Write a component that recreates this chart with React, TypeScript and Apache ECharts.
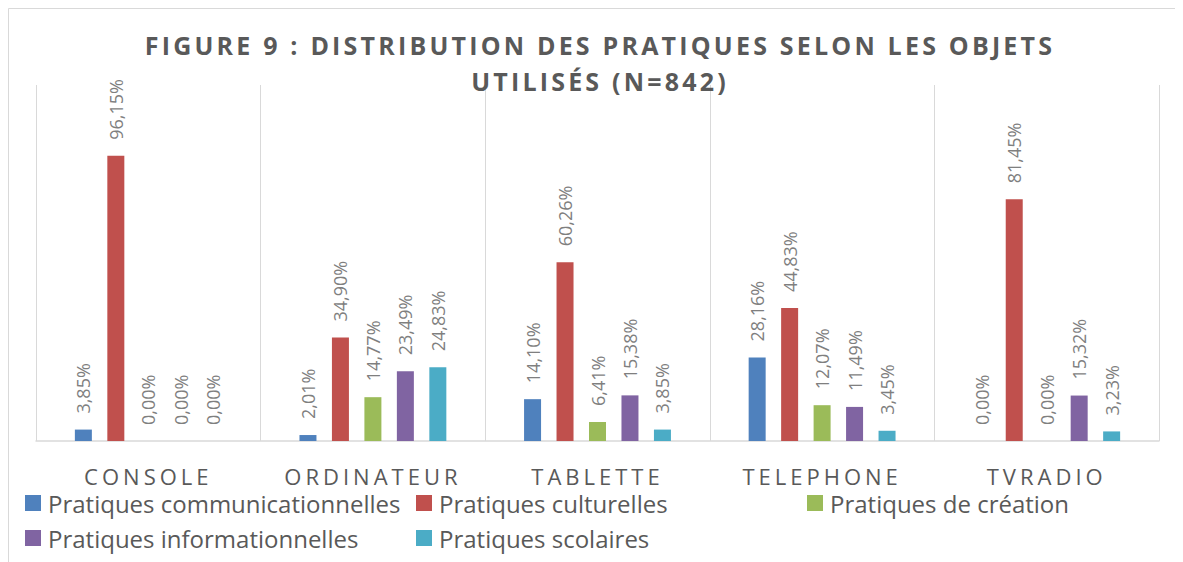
import React, { useEffect, useRef } from "react";
import * as echarts from "echarts";

const categories = ["CONSOLE", "ORDINATEUR", "TABLETTE", "TELEPHONE", "TVRADIO"];
const communicationnelles = [3.85, 2.01, 14.1, 28.16, 0];
const culturelles = [96.15, 34.9, 60.26, 44.83, 81.45];
const creation = [0, 14.77, 6.41, 12.07, 0];
const informationnelles = [0, 23.49, 15.38, 11.49, 15.32];
const scolaires = [0, 24.83, 3.85, 3.45, 3.23];

const seriesNames = [
  "Pratiques communicationnelles",
  "Pratiques culturelles",
  "Pratiques de création",
  "Pratiques informationnelles",
  "Pratiques scolaires",
];
const seriesData = [communicationnelles, culturelles, creation, informationnelles, scolaires];
const colors = ["#4F81BD", "#C0504D", "#9BBB59", "#8064A2", "#4BACC6"];

const titleLine1 = "FIGURE 9 : DISTRIBUTION DES PRATIQUES SELON LES OBJETS";
const titleLine2 = "UTILISÉS (N=842)";

const FONT = "'Open Sans', 'Noto Sans', sans-serif";

export default function App() {
  const ref = useRef<HTMLDivElement>(null);
  useEffect(() => {
    if (!ref.current) return;
    const chart = echarts.init(ref.current, null, { renderer: "svg" });
    const legendPos = [
      { left: 17, top: 483 },
      { left: 408, top: 483 },
      { left: 799, top: 483 },
      { left: 17, top: 518 },
      { left: 408, top: 518 },
    ];
    chart.setOption({
      animation: false,
      color: colors,
      title: {
        text: titleLine1 + "\n" + titleLine2,
        left: 587,
        top: 14,
        textAlign: "center",
        textStyle: {
          fontFamily: FONT,
          fontSize: 25,
          fontWeight: "bold",
          color: "#595959",
          lineHeight: 36,
        },
      },
      legend: legendPos.map((p, i) => ({
        data: [seriesNames[i]],
        left: p.left,
        top: p.top,
        padding: 0,
        icon: "rect",
        itemWidth: 16,
        itemHeight: 16,
        selectedMode: false,
        textStyle: {
          fontFamily: FONT,
          fontSize: 24,
          color: "#595959",
          lineHeight: 20,
          padding: [0, 0, 0, 2],
        },
      })),
      grid: { left: 28, right: 24, top: 77, bottom: 121, containLabel: false },
      xAxis: {
        type: "category",
        data: categories,
        axisLine: { lineStyle: { color: "#d9d9d9", width: 1.5 } },
        axisTick: { show: false },
        splitLine: { show: true, lineStyle: { color: "#d9d9d9", width: 1 } },
        axisLabel: {
          fontFamily: FONT,
          fontSize: 22,
          lineHeight: 18,
          color: "#595959",
          margin: 26,
          interval: 0,
        },
      },
      yAxis: { type: "value", min: 0, max: 120, show: false },
      graphic: [
        { type: "line", shape: { x1: 0.5, y1: 0.5, x2: 1175, y2: 0.5 }, style: { stroke: "#d9d9d9", lineWidth: 1 } },
        { type: "line", shape: { x1: 0.5, y1: 0.5, x2: 0.5, y2: 554 }, style: { stroke: "#d9d9d9", lineWidth: 1 } },
      ],
      series: seriesNames.map((name, i) => ({
        name,
        type: "bar",
        data: seriesData[i],
        barWidth: 17,
        barGap: "91%",
        itemStyle: { color: colors[i] },
        label: {
          show: true,
          position: "top",
          rotate: 90,
          align: "left",
          verticalAlign: "middle",
          distance: 16,
          fontFamily: FONT,
          fontSize: 18,
          color: "#7f7f7f",
          formatter: (p: any) => p.value.toFixed(2).replace(".", ",") + "%",
        },
      })),
    });
    const applySpacing = () => {
      const root = ref.current;
      if (!root) return;
      root.querySelectorAll("text").forEach((t) => {
        const s = (t.textContent || "").trim();
        if (s === titleLine1 || s === titleLine2) t.setAttribute("letter-spacing", "3.2");
        else if (categories.includes(s)) t.setAttribute("letter-spacing", "4");
      });
    };
    applySpacing();
    chart.on("finished", applySpacing);
    const raf = requestAnimationFrame(applySpacing);
    return () => {
      cancelAnimationFrame(raf);
      chart.dispose();
    };
  }, []);
  return <div ref={ref} style={{ width: 1175, height: 554 }} />;
}
